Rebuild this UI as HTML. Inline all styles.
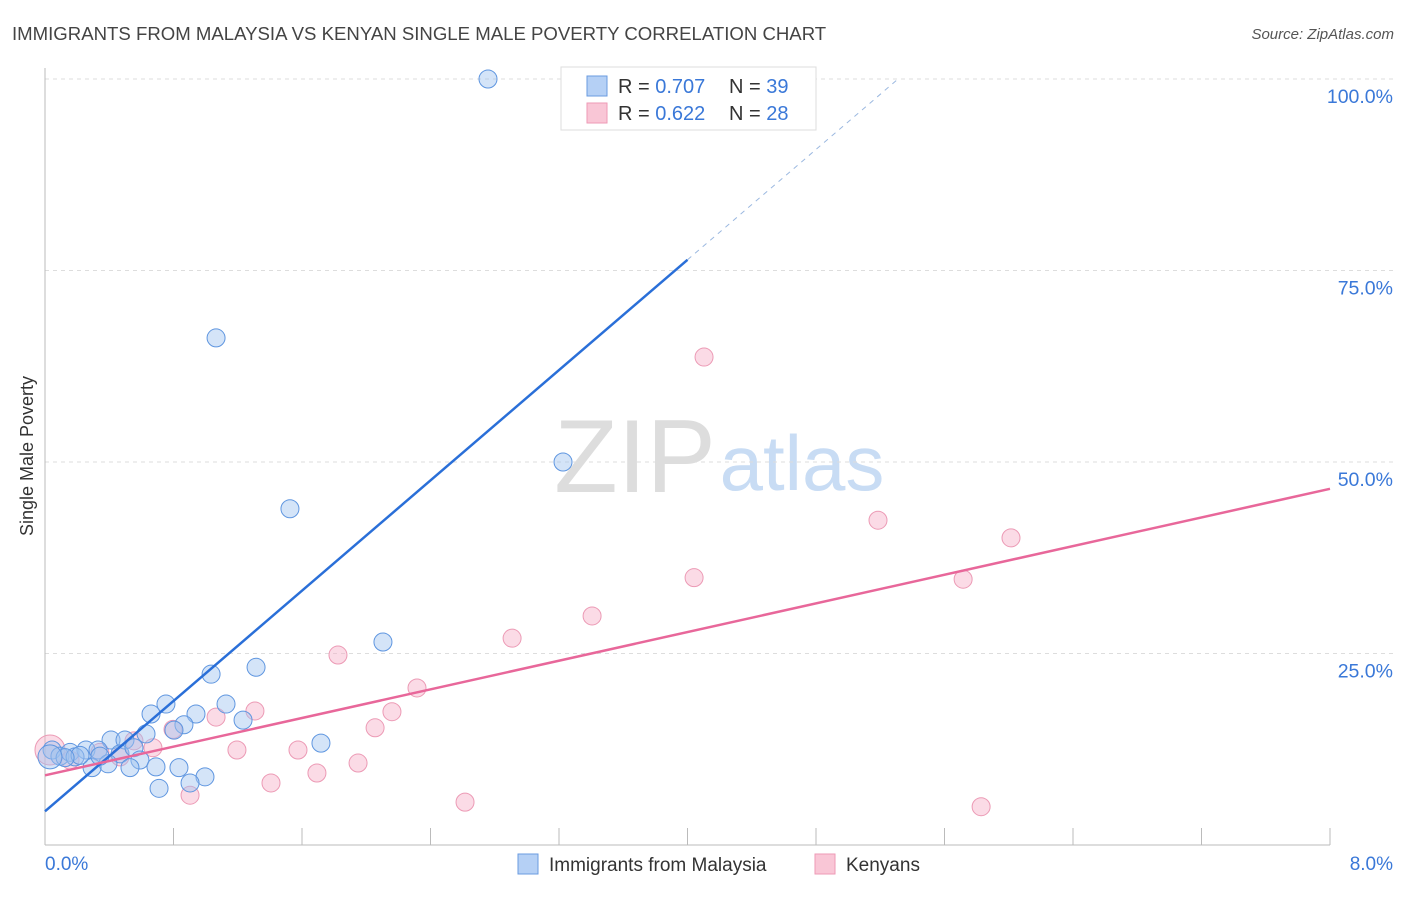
<!DOCTYPE html>
<html><head><meta charset="utf-8"><style>
body{margin:0;background:#fff;font-family:"Liberation Sans",sans-serif}
svg text{font-family:"Liberation Sans",sans-serif}
</style></head><body>
<svg id="c" width="1406" height="892">
<text x="12" y="40" font-size="18.6" fill="#444">IMMIGRANTS FROM MALAYSIA VS KENYAN SINGLE MALE POVERTY CORRELATION CHART</text>
<text x="1394" y="39" font-size="15" fill="#555" font-style="italic" text-anchor="end">Source: ZipAtlas.com</text>
<text x="33" y="456" font-size="18" fill="#333" text-anchor="middle" transform="rotate(-90 33 456)">Single Male Poverty</text>
<text x="635" y="492" font-size="104" fill="#ddd" font-family="Liberation Serif" text-anchor="middle">ZIP</text>
<text x="802" y="490" font-size="78" fill="#c8dcf4" text-anchor="middle">atlas</text>
<g id="grid"></g><g id="axes"></g><g id="marks"></g>
<g>
<rect x="561" y="67" width="255" height="63" fill="#fff" stroke="#ddd"/>
<rect x="587" y="76" width="20" height="20" fill="#b5d0f5" stroke="#6a9be0"/>
<text x="618" y="93" font-size="20" fill="#333">R = <tspan fill="#3a78d8">0.707</tspan></text>
<text x="729" y="93" font-size="20" fill="#333">N = <tspan fill="#3a78d8">39</tspan></text>
<rect x="587" y="103" width="20" height="20" fill="#f9c6d6" stroke="#ee9ab6"/>
<text x="618" y="120" font-size="20" fill="#333">R = <tspan fill="#3a78d8">0.622</tspan></text>
<text x="729" y="120" font-size="20" fill="#333">N = <tspan fill="#3a78d8">28</tspan></text>
</g>
<g>
<rect x="518" y="854" width="20" height="20" fill="#b5d0f5" stroke="#6a9be0"/>
<text x="549" y="871" font-size="19" fill="#333">Immigrants from Malaysia</text>
<rect x="815" y="854" width="20" height="20" fill="#f9c6d6" stroke="#ee9ab6"/>
<text x="846" y="871" font-size="19" fill="#333">Kenyans</text>
</g>
</svg>
<script>
const blueX=[2.758,1.065,1.525,3.225,2.104,1.314,1.034,1.127,0.753,0.940,0.660,1.233,0.865,0.629,0.803,1.718,0.411,0.498,0.044,0.093,0.156,0.255,0.330,0.467,0.554,0.591,0.392,0.293,0.529,0.691,0.834,0.996,0.710,0.903,0.187,0.218,0.125,0.342,0.031];
const blueY=[100.0,66.2,43.9,50.0,26.5,23.2,22.3,18.4,18.4,17.1,17.1,16.3,15.7,14.5,15.0,13.3,13.7,13.7,12.4,11.6,12.1,12.4,12.4,11.9,12.7,11.1,10.6,10.1,10.1,10.2,10.1,8.9,7.4,8.1,11.5,11.7,11.4,11.6,11.5];
const pinkX=[4.103,5.186,6.014,4.041,5.716,3.406,2.908,1.824,2.316,2.160,1.307,1.065,0.797,2.055,1.195,0.672,1.575,0.554,1.949,1.693,1.407,0.903,2.615,5.828,0.031,0.342,0.467,0.156];
const pinkY=[63.7,42.4,40.1,34.9,34.7,29.9,27.0,24.8,20.5,17.4,17.5,16.7,15.1,15.3,12.4,12.7,12.4,13.6,10.7,9.4,8.1,6.5,5.6,5.0,12.4,12.1,11.5,11.1];
const blueLine=[4.4,18.0];
const pinkLine=[9.1,4.675];
const yTicks=[25,50,75,100];
const xTickLabels=["0.0%","8.0%"];
const NS="http://www.w3.org/2000/svg";
const X=v=>45+v*1285/8, Y=v=>845-v*7.66;
function mk(p,t,a){const e=document.createElementNS(NS,t);for(const k in a)e.setAttribute(k,a[k]);document.getElementById(p).appendChild(e);return e;}
yTicks.forEach(t=>{
 const l=mk('grid','line',{x1:45,x2:1393,y1:Y(t),y2:Y(t),stroke:'#ddd','stroke-dasharray':'4,4'});
 
 
 const tx=mk('grid','text',{x:1393,y:Y(t)+24,'font-size':19.5,fill:'#3a78d8','text-anchor':'end'});tx.textContent=t.toFixed(1)+'%';
 
 
});
mk('axes','line',{x1:45,x2:45,y1:68,y2:845,stroke:'#bbb'});
mk('axes','line',{x1:45,x2:1330,y1:845,y2:845,stroke:'#bbb'});
for(let i=1;i<=10;i++){mk('axes','line',{x1:X(i*0.8),x2:X(i*0.8),y1:828,y2:845,stroke:'#bbb'});}
const a=mk('axes','text',{x:45,y:870,'font-size':19,fill:'#3a78d8'});a.textContent=xTickLabels[0];


const b=mk('axes','text',{x:1393,y:870,'font-size':19,fill:'#3a78d8','text-anchor':'end'});b.textContent=xTickLabels[1];


pinkX.forEach((x,i)=>{const c=mk('marks','circle',{cx:X(x),cy:Y(pinkY[i]),r:i==24?15:9,fill:'rgba(246,176,200,0.45)',stroke:'#ec9ab5','stroke-width':1});
 
 });
blueX.forEach((x,i)=>{const c=mk('marks','circle',{cx:X(x),cy:Y(blueY[i]),r:i==38?12:9,fill:'rgba(160,196,240,0.45)',stroke:'#5f96e0','stroke-width':1});
 
 });
const bl=mk('marks','line',{x1:X(0),y1:Y(blueLine[0]),x2:X(4),y2:Y(blueLine[0]+4*blueLine[1]),stroke:'#2a6fd8','stroke-width':2.5});


const xe=(100-blueLine[0])/blueLine[1];
const bd=mk('marks','line',{x1:X(4),y1:Y(blueLine[0]+4*blueLine[1]),x2:X(xe),y2:Y(100),stroke:'#9bb8e0','stroke-width':1,'stroke-dasharray':'5,5'});


const pl=mk('marks','line',{x1:X(0),y1:Y(pinkLine[0]),x2:X(8),y2:Y(pinkLine[0]+8*pinkLine[1]),stroke:'#e8679a','stroke-width':2.5});


</script>
</body></html>
